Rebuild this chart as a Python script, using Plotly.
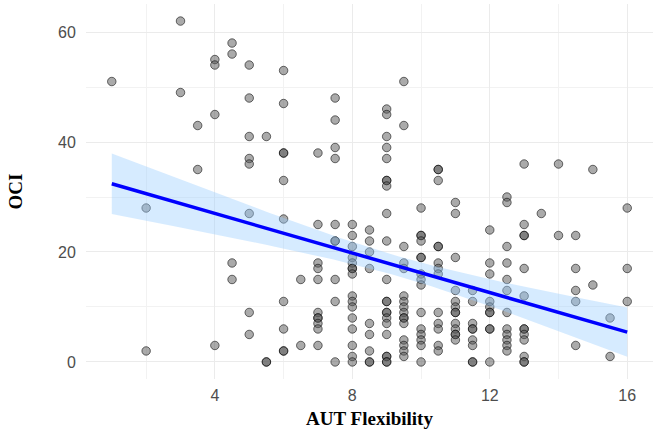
import numpy as np
import plotly.graph_objects as go

# AUT Flexibility value -> OCI scores observed at that value
flex_levels = [1, 2, 3, 3.5, 4, 4.5, 5, 5.5, 6, 6.5, 7, 7.5, 8, 8.5, 9, 9.5, 10, 10.5,
               11, 11.5, 12, 12.5, 13, 13.5, 14, 14.5, 15, 15.5, 16]
oci_by_level = [
    [51],
    [28, 2],
    [62, 49],
    [43, 35],
    [55, 54, 45, 3],
    [58, 56, 18, 15],
    [54, 48, 41, 37, 36, 27, 9, 5],
    [41, 0, 0],
    [53, 47, 38, 38, 33, 26, 11, 6, 2, 2],
    [15, 3],
    [38, 25, 18, 17, 15, 9, 8, 8, 7, 6, 3],
    [48, 44, 39, 37, 25, 22, 22, 15, 11, 0],
    [25, 23, 21, 19, 18, 17, 17, 16, 12, 11, 10, 8, 6, 3, 1, 0],
    [24, 22, 20, 17, 7, 5, 2, 0, 0],
    [46, 45, 41, 39, 37, 33, 33, 32, 27, 22, 15, 11, 11, 9, 9, 8, 7, 5, 1, 1, 0, 0],
    [51, 43, 21, 18, 17, 12, 11, 10, 9, 8, 8, 7, 4, 3, 2, 1],
    [28, 23, 23, 22, 19, 19, 16, 15, 14, 9, 6, 5, 4, 3, 0],
    [35, 35, 33, 21, 21, 18, 17, 16, 9, 7, 6, 3, 2],
    [29, 27, 19, 13, 11, 10, 9, 9, 7, 6, 5, 5, 4],
    [13, 11, 7, 6, 6, 4, 3, 0, 0],
    [24, 18, 16, 11, 10, 9, 9, 6, 6, 0],
    [30, 29, 21, 18, 15, 13, 9, 6, 5, 4, 3, 2],
    [36, 25, 23, 23, 17, 12, 6, 6, 5, 4, 1, 0, 0],
    [27],
    [36, 23],
    [23, 17, 13, 11, 3],
    [35, 14],
    [8, 1],
    [28, 17, 11],
]

x_ticks = [4, 8, 12, 16]
y_ticks = [0, 20, 40, 60]

xs = []
ys = []
for lv, vals in zip(flex_levels, oci_by_level):
    for v in vals:
        xs.append(lv)
        ys.append(v)
xs = np.array(xs, dtype=float)
ys = np.array(ys, dtype=float)

# linear fit with 95% confidence band
n = len(xs)
slope, intercept = np.polyfit(xs, ys, 1)
resid = ys - (intercept + slope * xs)
s = np.sqrt(np.sum(resid ** 2) / (n - 2))
xm = xs.mean()
sxx = np.sum((xs - xm) ** 2)
gx = np.linspace(xs.min(), xs.max(), 80)
gy = intercept + slope * gx
se = s * np.sqrt(1.0 / n + (gx - xm) ** 2 / sxx)
tval = 1.969
upper = gy + tval * se
lower = gy - tval * se

fig = go.Figure()
fig.add_trace(go.Scatter(
    x=xs, y=ys, mode="markers",
    marker=dict(size=8.5, color="rgba(85,85,85,0.5)",
                line=dict(color="rgba(0,0,0,0.55)", width=1)),
    hoverinfo="skip", showlegend=False))
fig.add_trace(go.Scatter(
    x=np.concatenate([gx, gx[::-1]]), y=np.concatenate([upper, lower[::-1]]),
    fill="toself", fillcolor="rgba(153,204,255,0.4)", line=dict(width=0),
    mode="lines", hoverinfo="skip", showlegend=False))
fig.add_trace(go.Scatter(
    x=gx, y=gy, mode="lines", line=dict(color="#0000ff", width=3.5),
    hoverinfo="skip", showlegend=False))

grid = "#ebebeb"
fig.update_layout(
    width=661, height=435,
    margin=dict(l=86, r=8, t=4, b=56),
    plot_bgcolor="white", paper_bgcolor="white",
    xaxis=dict(range=[0.25, 16.75], tickvals=x_ticks, ticktext=[str(t) for t in x_ticks],
               showgrid=True, gridcolor=grid, gridwidth=1.3, zeroline=False,
               showline=False, ticks="outside", ticklen=2, tickcolor="rgba(0,0,0,0)",
               tickfont=dict(family="Liberation Sans, Arial", size=16, color="#4d4d4d"),
               minor=dict(dtick=2, tick0=0, showgrid=True, gridcolor="#f2f2f2", gridwidth=0.8),
               title=dict(text="<b>AUT Flexibility</b>", standoff=8,
                          font=dict(family="Liberation Serif, Times New Roman", size=19, color="black"))),
    yaxis=dict(range=[-3.1, 65.1], tickvals=y_ticks, ticktext=[str(t) for t in y_ticks],
               showgrid=True, gridcolor=grid, gridwidth=1.3, zeroline=False,
               showline=False, ticks="outside", ticklen=6, tickcolor="rgba(0,0,0,0)",
               tickfont=dict(family="Liberation Sans, Arial", size=16, color="#4d4d4d"),
               minor=dict(dtick=10, tick0=0, showgrid=True, gridcolor="#f2f2f2", gridwidth=0.8),
               title=dict(text="<b>OCI</b>", standoff=30,
                          font=dict(family="Liberation Serif, Times New Roman", size=19, color="black"))),
)
fig.write_html("out.html", config={"displayModeBar": False},
               post_script="document.body.style.margin='0px';document.body.style.overflow='hidden';")
